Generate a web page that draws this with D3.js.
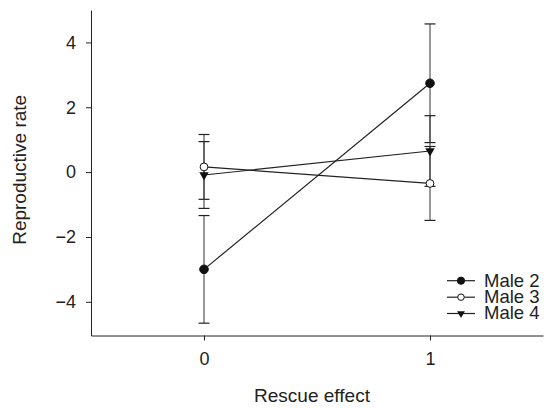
<!DOCTYPE html>
<html>
<head>
<meta charset="utf-8">
<script src="https://cdn.jsdelivr.net/npm/d3@7"></script>
<style>
  body { margin: 0; background: #fff; }
  svg { display: block; font-family: "Liberation Sans", Arial, Helvetica, sans-serif; }
  .axis path, .axis line { stroke: #222; }
  .axis text { fill: #222; font-size: 18px; }
</style>
</head>
<body>
<script>
(function(){

// data
var categories = [0, 1];
var seriesNames = ["Male 2", "Male 3", "Male 4"];
var male2 = [-3.0, 2.74],
    male2Err = [1.66, 1.83];
var male3 = [0.16, -0.35],
    male3Err = [1.0, 1.14];
var male4 = [-0.09, 0.65],
    male4Err = [1.03, 1.09];
var yTicks = [-4, -2, 0, 2, 4];

var series = [
    {name: seriesNames[0], values: male2, errs: male2Err, symbol: "filled"},
    {name: seriesNames[1], values: male3, errs: male3Err, symbol: "open"},
    {name: seriesNames[2], values: male4, errs: male4Err, symbol: "triangle"}
];

// dimensions
var width = 548,
    height = 408,
    margin = {top: 10, right: 5, bottom: 72.5, left: 91};

var svg = d3.select("body")
    .append("svg")
    .attr("width", width)
    .attr("height", height);

var x = d3.scaleLinear()
    .domain([-0.5, 1.5])
    .range([margin.left, width - margin.right]);

var y = d3.scaleLinear()
    .domain([-5.04, 5.0])
    .range([height - margin.bottom, margin.top]);

// axes
svg.append("g")
    .attr("class", "axis")
    .attr("transform", "translate(0," + (height - margin.bottom) + ")")
    .call(d3.axisBottom(x).tickValues(categories).tickFormat(d3.format("d"))
        .tickSizeInner(5).tickSizeOuter(0).tickPadding(12));

svg.append("g")
    .attr("class", "axis")
    .attr("transform", "translate(" + margin.left + ",0)")
    .call(d3.axisLeft(y).tickValues(yTicks).tickFormat(d3.format("d"))
        .tickSizeInner(5).tickSizeOuter(0).tickPadding(10));

// let css set the font
svg.selectAll(".axis").attr("font-family", null).attr("font-size", null);

// axis titles
svg.append("text")
    .attr("x", 312)
    .attr("y", 402)
    .attr("text-anchor", "middle")
    .attr("font-size", 19)
    .attr("fill", "#222")
    .text("Rescue effect");

svg.append("text")
    .attr("transform", "translate(26," + y(0.07) + ") rotate(-90)")
    .attr("text-anchor", "middle")
    .attr("font-size", 19)
    .attr("fill", "#222")
    .text("Reproductive rate");

// error bars
var capHalf = 5.5;
series.forEach(function(s){
    var g = svg.append("g").attr("class", "errbar");
    categories.forEach(function(c, i){
        var lo = y(s.values[i] - s.errs[i]),
            hi = y(s.values[i] + s.errs[i]);
        g.append("line")
            .attr("x1", x(c)).attr("x2", x(c))
            .attr("y1", lo).attr("y2", hi)
            .attr("stroke", "#333").attr("stroke-width", 1);
        [lo, hi].forEach(function(py){
            g.append("line")
                .attr("x1", x(c) - capHalf).attr("x2", x(c) + capHalf)
                .attr("y1", py).attr("y2", py)
                .attr("stroke", "#222").attr("stroke-width", 1.2);
        });
    });
});

// lines
var line = d3.line()
    .x(function(d, i){ return x(categories[i]); })
    .y(function(d){ return y(d); });

series.forEach(function(s){
    svg.append("path")
        .datum(s.values)
        .attr("d", line)
        .attr("fill", "none")
        .attr("stroke", "#222")
        .attr("stroke-width", 1.2);
});

// markers
function drawMarker(g, type, cx, cy, scale){
    if (type == "triangle"){
        g.append("path")
            .attr("d", d3.symbol().type(d3.symbolTriangle).size(38 * scale)())
            .attr("transform", "translate(" + cx + "," + cy + ") rotate(180)")
            .attr("fill", "#111");
    } else {
        g.append("circle")
            .attr("cx", cx).attr("cy", cy)
            .attr("r", (type == "filled" ? 4.3 : 3.9) * Math.sqrt(scale))
            .attr("fill", type == "filled" ? "#111" : "#fff")
            .attr("stroke", "#111")
            .attr("stroke-width", 1);
    }
}

series.forEach(function(s){
    var g = svg.append("g");
    categories.forEach(function(c, i){
        drawMarker(g, s.symbol, x(c), y(s.values[i]), 1);
    });
});

// legend
var legend = svg.append("g").attr("class", "legend");
var legendY = [280.7, 297.2, 313.5];
series.forEach(function(s, i){
    var ly = legendY[i];
    legend.append("line")
        .attr("x1", 447).attr("x2", 475)
        .attr("y1", ly).attr("y2", ly)
        .attr("stroke", "#222").attr("stroke-width", 1.2);
    drawMarker(legend, s.symbol, 461, ly, 0.7);
    legend.append("text")
        .attr("x", 484)
        .attr("y", ly)
        .attr("dy", "0.32em")
        .attr("font-size", 18.5)
        .attr("fill", "#222")
        .text(s.name);
});

})();
</script>
</body>
</html>
